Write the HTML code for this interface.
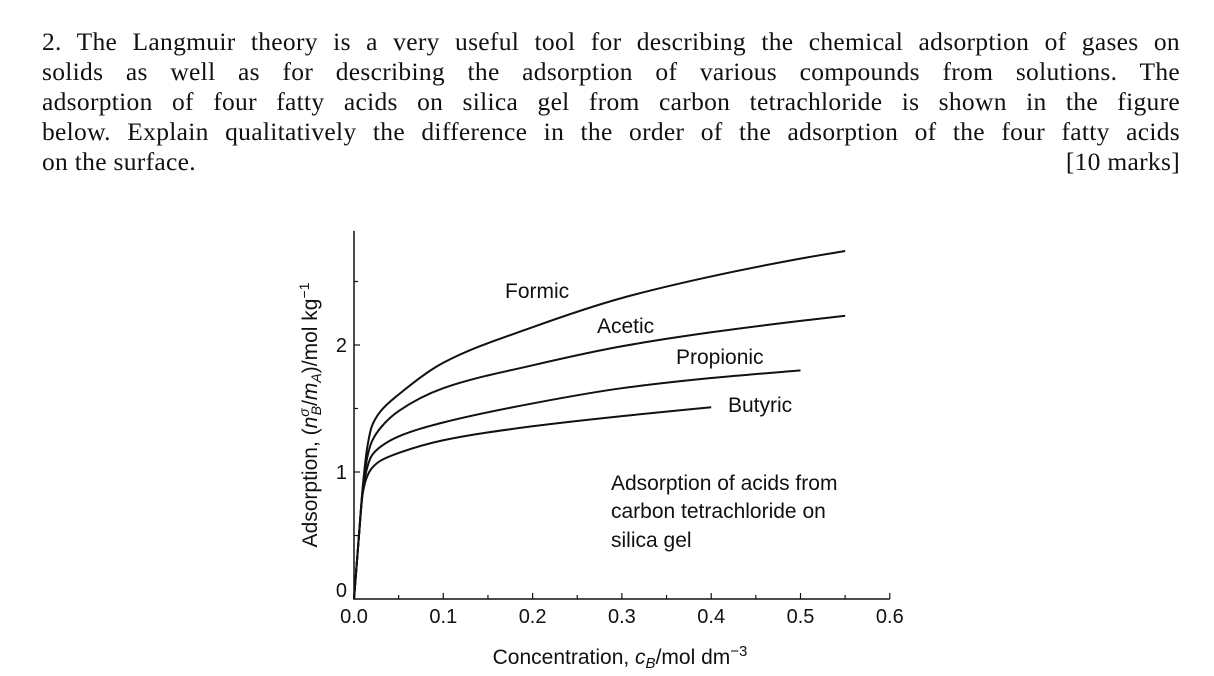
<!DOCTYPE html>
<html><head><meta charset="utf-8"><style>
body{margin:0;width:1214px;height:676px;background:#fff;overflow:hidden;position:relative;font-family:"Liberation Serif",serif;color:#111}
.q{position:absolute;left:42px;width:1138px;top:27px;font-size:25.5px;line-height:30px;letter-spacing:0.3px}
.q div{text-align:justify;text-align-last:justify;white-space:nowrap}
.q div.last{text-align-last:auto;display:flex;justify-content:space-between}
svg{position:absolute;left:0;top:0}
svg text{font-family:"Liberation Sans",sans-serif;fill:#111}
</style></head><body>
<div class="q">
<div>2. The Langmuir theory is a very useful tool for describing the chemical adsorption of gases on</div>
<div>solids as well as for describing the adsorption of various compounds from solutions. The</div>
<div>adsorption of four fatty acids on silica gel from carbon tetrachloride is shown in the figure</div>
<div>below. Explain qualitatively the difference in the order of the adsorption of the four fatty acids</div>
<div class="last"><span>on the surface.</span><span>[10 marks]</span></div>
</div>
<svg id="chart" width="1214" height="676"></svg>
<script>
const xs=[0,0.005,0.01,0.015,0.02,0.03,0.05,0.1,0.2,0.3,0.4,0.5,0.55];
const formic=[0,0.45,0.9,1.2,1.36,1.48,1.61,1.86,2.14,2.37,2.54,2.68,2.74];
const acetic=[0,0.45,0.88,1.12,1.24,1.35,1.48,1.66,1.84,1.99,2.10,2.19,2.23];
const propionic=[0,0.45,0.86,1.04,1.13,1.20,1.28,1.39,1.54,1.66,1.74,1.80];
const butyric=[0,0.45,0.84,0.97,1.03,1.09,1.15,1.25,1.36,1.44,1.51];
const xTicks=["0.0","0.1","0.2","0.3","0.4","0.5","0.6"];
const yTicks=["0","1","2"];
const NS="http://www.w3.org/2000/svg",svg=document.getElementById('chart');
const X=v=>354+v*893, Y=v=>599-v*127;
function el(t,a,p){const e=document.createElementNS(NS,t);for(const k in a)e.setAttribute(k,a[k]);(p||svg).appendChild(e);return e;}
const ax=el('path',{d:`M${X(0)},${Y(2.9)}V${Y(0)}H${X(0.6)}`,stroke:'#111','stroke-width':1.5,fill:'none'});


for(let i=0;i<=12;i++){const t=el('line',{x1:X(i*0.05),x2:X(i*0.05),y1:Y(0),y2:Y(0)-(i%2?4:6),stroke:'#111','stroke-width':1.2});

}
for(let i=1;i<=5;i++){const t=el('line',{x1:X(0),x2:X(0)+(i%2?4:6),y1:Y(i*0.5),y2:Y(i*0.5),stroke:'#111','stroke-width':1.2});

}
xTicks.forEach((s,i)=>{const t=el('text',{x:X(i*0.1),y:623,'font-size':20,'text-anchor':'middle'});t.textContent=s;

});
yTicks.forEach((s,i)=>{const t=el('text',{x:X(0)-7,y:Y(i)+(i==0?-2:7),'font-size':20,'text-anchor':'end'});t.textContent=s;

});
function path(ys){
const n=ys.length,x=xs.slice(0,n),d=[],m=[];
for(let i=0;i<n-1;i++)d.push((ys[i+1]-ys[i])/(x[i+1]-x[i]));
for(let i=0;i<n;i++){
if(i==0)m.push(d[0]);else if(i==n-1)m.push(d[n-2]);
else if(d[i-1]*d[i]<=0)m.push(0);
else{const h0=x[i]-x[i-1],h1=x[i+1]-x[i],w1=2*h1+h0,w2=h1+2*h0;m.push((w1+w2)/(w1/d[i-1]+w2/d[i]));}}
let s=`M${X(x[0])},${Y(ys[0])}`;
for(let i=0;i<n-1;i++){const h=x[i+1]-x[i];
s+=`C${X(x[i]+h/3)},${Y(ys[i]+m[i]*h/3)} ${X(x[i+1]-h/3)},${Y(ys[i+1]-m[i+1]*h/3)} ${X(x[i+1])},${Y(ys[i+1])}`;}
return s;}
[[formic,'formic-curve'],[acetic,'acetic-curve'],[propionic,'propionic-curve'],[butyric,'butyric-curve']].forEach(([s,n])=>{
const c=el('path',{d:path(s),stroke:'#111','stroke-width':2,fill:'none'});

});
const labs=[["Formic",505,298],["Acetic",597,333],["Propionic",676,364],["Butyric",728,412],
["Adsorption of acids from",611,490],["carbon tetrachloride on",611,518],["silica gel",611,547]];
labs.forEach(([s,x,y])=>{const t=el('text',{x:x,y:y,'font-size':21});t.textContent=s;

});
const xl=el('text',{x:620,y:664,'font-size':21,'text-anchor':'middle'});
xl.innerHTML='Concentration, <tspan font-style="italic">c</tspan><tspan font-size="15" dy="4" font-style="italic">B</tspan><tspan dy="-4">/mol dm</tspan><tspan font-size="15" dy="-8">−3</tspan>';


const yl=el('text',{x:0,y:0,'font-size':21,'text-anchor':'middle',transform:'translate(317,415) rotate(-90)'});
yl.innerHTML='Adsorption, (<tspan font-style="italic">n</tspan><tspan font-size="14" dy="-8" font-style="italic">σ</tspan><tspan font-size="14" dx="-7" dy="12" font-style="italic">B</tspan><tspan dy="-4">/</tspan><tspan font-style="italic">m</tspan><tspan font-size="14" dy="4" font-style="italic">A</tspan><tspan dy="-4">)/mol kg</tspan><tspan font-size="14" dy="-8">−1</tspan>';


</script>
</body></html>
